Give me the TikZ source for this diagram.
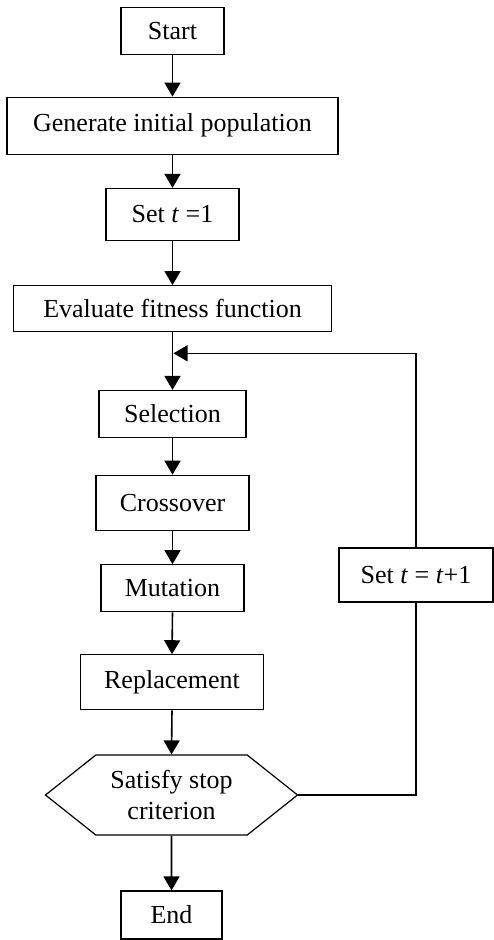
\documentclass[tikz,border=0pt]{standalone}
\usepackage{fontspec}
\setmainfont{Liberation Serif}
\usetikzlibrary{arrows.meta,shapes.symbols}

\tikzset{
  box/.style={draw, line width=1.2pt, inner sep=0pt, font=\fontsize{26}{31}\selectfont},
  arr/.style={line width=1.6pt, -{Triangle[width=16pt,length=14pt]}},
  back/.style={line width=1.2pt}
}

\begin{document}
\begin{tikzpicture}[x=1pt,y=-1pt]
			%%%%% START %%%%%
			\useasboundingbox (0,0) rectangle (493,940);
			
			\node[box, minimum width=103pt, minimum height=47pt] (start) at (172.5, 30.7) {Start};
			\node[box, minimum width=331pt, minimum height=57pt] (init) at (172.5, 125.7) {Generate initial population};
			\node[box, minimum width=133pt, minimum height=52pt] (tone) at (172.5, 214.5) {Set \textit{t} =1};
			\node[box, minimum width=318pt, minimum height=46pt] (eval) at (172.5, 308.7) {Evaluate fitness function};
			
			\node[box, minimum width=147pt, minimum height=47pt] (sel) at (172.5, 414) {Selection};
			\node[box, minimum width=153pt, minimum height=55pt] (cross) at (172.5, 502.8) {Crossover};
			\node[box, minimum width=143pt, minimum height=47pt] (mut) at (172.5, 588.3) {Mutation};
			\node[box, minimum width=183pt, minimum height=55pt] (repl) at (172, 682.3) {Replacement};
			
			\node[box, signal, signal to=east and west, signal pointer angle=77,
			      minimum width=252pt, minimum height=80pt, align=center] (stop) at (171.5, 795) {Satisfy stop\\criterion};
			\node[box, minimum width=101pt, minimum height=48pt] (end) at (171.5, 915) {End};
			
			\node[box, minimum width=154pt, minimum height=54pt] (tnext) at (416, 575) {Set \textit{t} = \textit{t}+1};
			
			\coordinate (join) at (173.5, 353.3);
			
			\draw[arr] (start) -- (init);
			\draw[arr] (init) -- (tone);
			\draw[arr] (tone) -- (eval);
			\draw[arr] (eval) -- (sel);
			\draw[arr] (sel) -- (cross);
			\draw[arr] (cross) -- (mut);
			\draw[arr] (mut.south) -- (repl.north);
			\draw[arr] (repl.south) -- (stop.north);
			\draw[arr] (stop) -- (end);
			
			\draw[back] (stop.east) -| (tnext.south);
			\draw[back, -{Triangle[width=16pt,length=14pt]}] (tnext.north) |- (join);
			
			%%%%% END %%%%%
		\end{tikzpicture}
\end{document}
